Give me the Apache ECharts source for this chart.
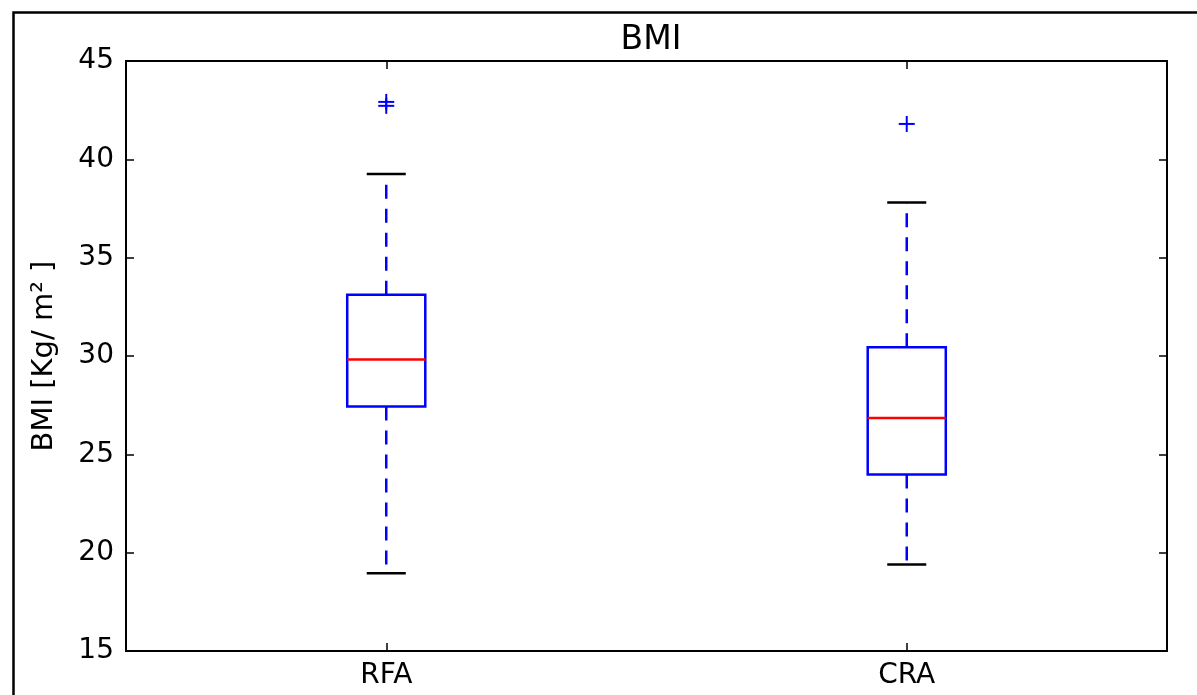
<!DOCTYPE html>
<html>
<head>
<meta charset="utf-8">
<script src="https://cdn.jsdelivr.net/npm/echarts@6/dist/echarts.min.js"></script>
<style>
html,body{margin:0;padding:0;background:#fff;}
#chart{width:1197px;height:695px;}
</style>
</head>
<body>
<div id="chart"></div>
<script>
const categories = ['RFA', 'CRA'];
const whiskerLow = [18.95, 19.4];
const q1 = [27.43, 23.97];
const median = [29.82, 26.85];
const q3 = [33.12, 30.45];
const whiskerHigh = [39.25, 37.8];
const outlierCat = [0, 0, 1];
const outlierVal = [42.92, 42.72, 41.8];
const yTicks = [15, 20, 25, 30, 35, 40, 45];

const boxData = categories.map((c, i) => [i, whiskerLow[i], q1[i], median[i], q3[i], whiskerHigh[i]]);
const outData = outlierCat.map((c, i) => [c, outlierVal[i]]);

const chart = echarts.init(document.getElementById('chart'));
const font = 'DejaVu Sans';
const axisCommon = {
  axisLine: {show: true, lineStyle: {color: '#000', width: 2}},
  axisTick: {show: true, inside: true, length: 8, lineStyle: {color: '#000', width: 1.5}},
  splitLine: {show: false}
};
chart.setOption({
  animation: false,
  backgroundColor: '#fff',
  title: {
    text: 'BMI', left: 646, textAlign: 'center', top: 19,
    textStyle: {fontFamily: font, fontSize: 33, fontWeight: 'normal', color: '#000'}
  },
  grid: {left: 126, right: 30, top: 61, bottom: 44, show: false},
  xAxis: [
    Object.assign({}, axisCommon, {
      type: 'category', data: categories, boundaryGap: true, position: 'bottom',
      axisTick: {show: true, inside: true, length: 8, alignWithLabel: true, lineStyle: {color: '#000', width: 1.5}},
      axisLabel: {fontFamily: font, fontSize: 28, color: '#000', margin: 11}
    }),
    Object.assign({}, axisCommon, {
      type: 'category', data: categories, boundaryGap: true, position: 'top',
      axisTick: {show: true, inside: true, length: 8, alignWithLabel: true, lineStyle: {color: '#000', width: 1.5}},
      axisLabel: {show: false}
    })
  ],
  yAxis: [
    Object.assign({}, axisCommon, {
      type: 'value', min: yTicks[0], max: yTicks[yTicks.length - 1], interval: 5, position: 'left',
      axisLabel: {fontFamily: font, fontSize: 28, color: '#000', margin: 12},
      name: 'BMI [Kg/ m² ]', nameLocation: 'middle', nameRotate: 90, nameGap: 67,
      nameTextStyle: {fontFamily: font, fontSize: 29, color: '#000'}
    }),
    Object.assign({}, axisCommon, {
      type: 'value', min: yTicks[0], max: yTicks[yTicks.length - 1], interval: 5, position: 'right',
      axisLabel: {show: false}
    })
  ],
  graphic: [{
    type: 'rect', left: 11, top: 10, silent: true,
    shape: {x: 0, y: 0, width: 1200, height: 700},
    style: {fill: 'none', stroke: '#000', lineWidth: 2.5}
  }],
  series: [
    {
      type: 'custom',
      data: boxData,
      encode: {x: 0, y: [1, 2, 3, 4, 5]},
      renderItem: function (params, api) {
        const x = api.value(0);
        const catW = api.size([1, 0])[0];
        const bw = catW * 0.15;
        const cw = bw / 2;
        const pLo = api.coord([x, api.value(1)]);
        const pQ1 = api.coord([x, api.value(2)]);
        const pMed = api.coord([x, api.value(3)]);
        const pQ3 = api.coord([x, api.value(4)]);
        const pHi = api.coord([x, api.value(5)]);
        const cx = pMed[0];
        const blue = '#0000ff';
        return {
          type: 'group',
          children: [
            {type: 'line', shape: {x1: cx, y1: pQ1[1], x2: cx, y2: pLo[1]},
              style: {stroke: blue, lineWidth: 2.5, lineDash: [14, 10]}},
            {type: 'line', shape: {x1: cx, y1: pQ3[1], x2: cx, y2: pHi[1]},
              style: {stroke: blue, lineWidth: 2.5, lineDash: [14, 10]}},
            {type: 'line', shape: {x1: cx - cw / 2, y1: pLo[1], x2: cx + cw / 2, y2: pLo[1]},
              style: {stroke: '#000', lineWidth: 2.5}},
            {type: 'line', shape: {x1: cx - cw / 2, y1: pHi[1], x2: cx + cw / 2, y2: pHi[1]},
              style: {stroke: '#000', lineWidth: 2.5}},
            {type: 'rect', shape: {x: cx - bw / 2, y: pQ3[1], width: bw, height: pQ1[1] - pQ3[1]},
              style: {fill: 'none', stroke: blue, lineWidth: 2.5}},
            {type: 'line', shape: {x1: cx - bw / 2, y1: pMed[1], x2: cx + bw / 2, y2: pMed[1]},
              style: {stroke: '#ff0000', lineWidth: 2.5}}
          ]
        };
      }
    },
    {
      type: 'custom',
      data: outData,
      encode: {x: 0, y: 1},
      renderItem: function (params, api) {
        const p = api.coord([api.value(0), api.value(1)]);
        const h = 8;
        return {
          type: 'group',
          children: [
            {type: 'line', shape: {x1: p[0] - h, y1: p[1], x2: p[0] + h, y2: p[1]},
              style: {stroke: '#0000ff', lineWidth: 2}},
            {type: 'line', shape: {x1: p[0], y1: p[1] - h, x2: p[0], y2: p[1] + h},
              style: {stroke: '#0000ff', lineWidth: 2}}
          ]
        };
      }
    }
  ]
});
</script>
</body>
</html>
